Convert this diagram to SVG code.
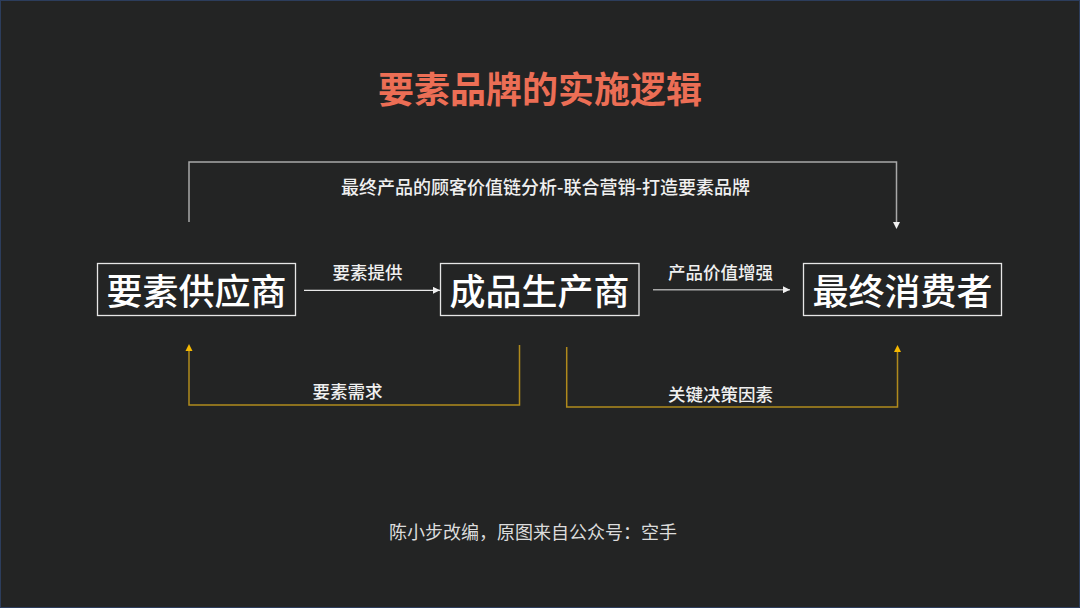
<svg xmlns="http://www.w3.org/2000/svg" width="1080" height="608" viewBox="0 0 1080 608">
<defs>
<style>
text{font-family:"Noto Sans CJK SC","Noto Sans",sans-serif;text-anchor:middle;dominant-baseline:central}
.node rect{fill:none;stroke:#e6e6e6;stroke-width:1.3}
.node text{fill:#ffffff;font-size:36px;font-weight:500}
.lbl{fill:#f0f0f0;font-size:17.5px;font-weight:500}
.gray{fill:none;stroke:#a8a8a8;stroke-width:1.5}
.white{fill:none;stroke:#e8e8e8;stroke-width:1.3}
.gold{fill:none;stroke:#b08a1c;stroke-width:1.5}
</style>
<marker id="aw" viewBox="0 0 10 10" refX="10" refY="5" markerWidth="7" markerHeight="7" markerUnits="userSpaceOnUse" orient="auto"><path d="M0,0 L10,5 L0,10 z" fill="#f0f0f0"/></marker>
</defs>
<rect x="0" y="0" width="1080" height="608" fill="#232424"/>
<rect x="0.5" y="0.5" width="1079" height="607" fill="none" stroke="#2c3d5c" stroke-width="1"/>
<text x="540" y="87" fill="#ec6e55" font-size="36" font-weight="bold">要素品牌的实施逻辑</text>
<g id="connectors">
<path class="gray" d="M189,222 V162 H896.5 V223"/>
<path d="M893,222 L896.5,229 L900,222 z" fill="#f0f0f0"/>
<text class="lbl" x="545.5" y="186" style="font-size:18px">最终产品的顾客价值链分析-联合营销-打造要素品牌</text>
<path class="white" d="M304,290.3 H440" marker-end="url(#aw)"/>
<text class="lbl" x="367.5" y="271">要素提供</text>
<path class="gray" d="M653,289.7 H790" marker-end="url(#aw)"/>
<text class="lbl" x="720.5" y="271">产品价值增强</text>
<path class="gold" d="M519.5,345 V405 H189 V350"/>
<path d="M185.5,351 L189,344 L192.5,351 z" fill="#f5b800"/>
<text class="lbl" x="347.5" y="390">要素需求</text>
<path class="gold" d="M566.7,347 V407 H897.5 V351"/>
<path d="M894,352 L897.5,345 L901,352 z" fill="#f5b800"/>
<text class="lbl" x="720.5" y="393">关键决策因素</text>
</g>
<g id="supplier" class="node"><rect x="97.5" y="263.5" width="198" height="52"/><text x="196.5" y="289">要素供应商</text></g>
<g id="producer" class="node"><rect x="440.5" y="263.5" width="198.5" height="52"/><text x="539.5" y="289">成品生产商</text></g>
<g id="consumer" class="node"><rect x="803.5" y="263.5" width="198" height="52"/><text x="902.5" y="289">最终消费者</text></g>
<text x="533" y="531" fill="#dcdcdc" font-size="18">陈小步改编，原图来自公众号：空手</text>
</svg>
